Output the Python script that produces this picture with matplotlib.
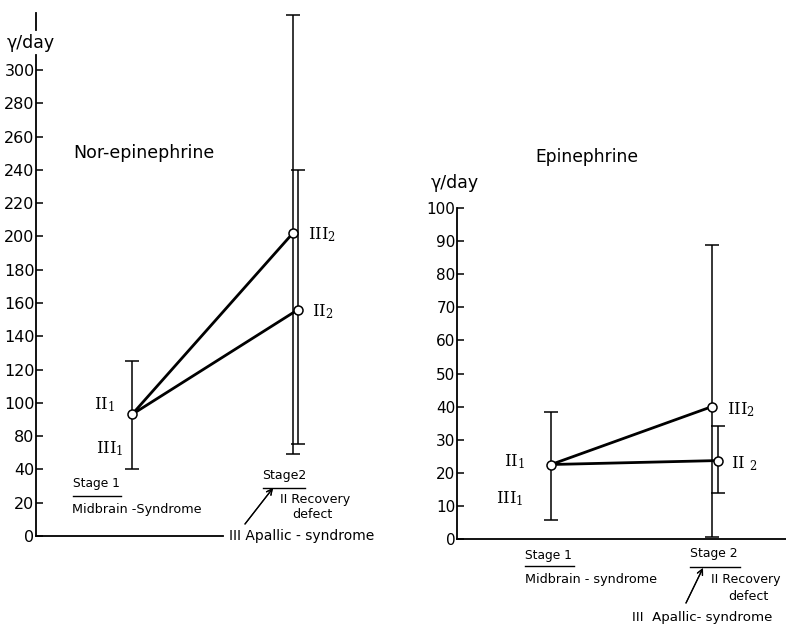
import matplotlib
matplotlib.use("Agg")
import matplotlib.pyplot as plt
from matplotlib.lines import Line2D

plt.rcParams['font.family'] = ['DejaVu Sans']

W, H = 786, 628

# Stage positions
stages = [1, 2]

# Nor-epinephrine (gamma/day); the printed axis labels 0, 20, 40 sit at 20, 40, 60
ne_stage1 = 93
ne_stage1_lo, ne_stage1_hi = 60, 125
ne_II2, ne_II2_lo, ne_II2_hi = 156, 75, 240
ne_III2, ne_III2_lo, ne_III2_hi = 202, 69, 333
ne_ticks = [20, 40, 60, 80, 100, 120, 140, 160, 180, 200, 220, 240, 260, 280, 300]
ne_ticklabels = ["0", "20", "40", "80", "100", "120", "140", "160", "180",
                 "200", "220", "240", "260", "280", "300"]

# Epinephrine (gamma/day)
e_stage1 = 22.5
e_stage1_lo, e_stage1_hi = 5.7, 38.5
e_II2, e_II2_lo, e_II2_hi = 23.7, 14, 34
e_III2, e_III2_lo, e_III2_hi = 40, 0.5, 88.8
e_ticks = [0, 10, 20, 30, 40, 50, 60, 70, 80, 90, 100]


def P(x, y):
    # pixel position -> figure fraction
    return x / W, 1 - y / H


def ftext(x, y, s, **kw):
    kw.setdefault('ha', 'left')
    kw.setdefault('va', 'center')
    fig.text(*P(x, y), s, **kw)


def fline(x0, y0, x1, y1, lw=1.0):
    a, b = P(x0, y0)
    c, d = P(x1, y1)
    fig.add_artist(Line2D([a, c], [b, d], transform=fig.transFigure,
                          color='black', lw=lw))


def ebar(ax, x, y, lo, hi):
    ax.errorbar([x], [y], yerr=[[y - lo], [hi - y]], fmt='none', ecolor='black',
                elinewidth=1.1, capsize=5, capthick=1.1, clip_on=False, zorder=2)


def style(ax):
    for s in ['top', 'right']:
        ax.spines[s].set_visible(False)
    ax.spines['left'].set_linewidth(1.3)
    ax.spines['bottom'].set_linewidth(1.3)
    ax.set_xticks([])
    ax.tick_params(axis='y', direction='in', length=5, width=1.1,
                   labelsize=11, pad=1)


fig = plt.figure(figsize=(W / 100, H / 100), dpi=100)

roman = dict(family='DejaVu Serif', fontsize=12)
mk = dict(marker='o', ms=6.5, mfc='white', mec='black', mew=1.1, ls='none',
          clip_on=False, zorder=4)

# ---------------- left: Nor-epinephrine ----------------
ax1 = fig.add_axes([36 / W, (H - 536) / H, 346 / W, 516 / H])
ax1.set_xlim(0.404, 2.553)
ax1.set_ylim(20, 330)
style(ax1)
ax1.tick_params(axis='y', labelsize=11.5)
ax1.spines['left'].set_bounds(20, 309)
ax1.spines['bottom'].set_bounds(0.404, 1.565)
ax1.set_yticks(ne_ticks)
ax1.set_yticklabels(ne_ticklabels)
ax1.plot([0.404, 0.404], [324, 334], color='black', lw=1.3, clip_on=False)

ebar(ax1, stages[0], ne_stage1, ne_stage1_lo, ne_stage1_hi)
ebar(ax1, stages[1], ne_III2, ne_III2_lo, ne_III2_hi)
ebar(ax1, stages[1] + 0.031, ne_II2, ne_II2_lo, ne_II2_hi)
ax1.plot([stages[0], stages[1]], [ne_stage1, ne_III2], color='black', lw=2, zorder=3)
ax1.plot([stages[0], stages[1] + 0.031], [ne_stage1, ne_II2], color='black', lw=2, zorder=3)
ax1.plot([stages[0], stages[1], stages[1] + 0.031], [ne_stage1, ne_III2, ne_II2], **mk)

ftext(7, 43, "γ/day", fontsize=12.5)
ftext(73, 153, "Nor-epinephrine", fontsize=12.5)
ftext(94, 405, r"$\mathregular{II_1}$", **roman)
ftext(96, 449, r"$\mathregular{III_1}$", **roman)
ftext(308, 235, r"$\mathregular{III_2}$", **roman)
ftext(312, 312, r"$\mathregular{II_2}$", **roman)

ftext(73, 483, "Stage 1", fontsize=8.8)
fline(73, 496, 121, 496)
ftext(72, 509, "Midbrain -Syndrome", fontsize=9.2)
ftext(262, 475, "Stage2", fontsize=9)
fline(263, 488, 305, 488)
ftext(280, 500, "II Recovery", fontsize=9.1)
ftext(292, 514, "defect", fontsize=9.1)
ftext(229, 536, "III Apallic - syndrome", fontsize=10)
fig.add_artist(plt.annotate("", xy=P(273, 488), xytext=P(245, 524),
                            xycoords='figure fraction', textcoords='figure fraction',
                            arrowprops=dict(arrowstyle='->', lw=0.9, color='black',
                                            shrinkA=0, shrinkB=0)))

# ---------------- right: Epinephrine ----------------
ax2 = fig.add_axes([457 / W, (H - 539) / H, 329 / W, 331 / H])
ax2.set_xlim(0.416, 2.46)
ax2.set_ylim(0, 100)
style(ax2)
ax2.set_yticks(e_ticks)

ebar(ax2, stages[0], e_stage1, e_stage1_lo, e_stage1_hi)
ebar(ax2, stages[1], e_III2, e_III2_lo, e_III2_hi)
ebar(ax2, stages[1] + 0.037, e_II2, e_II2_lo, e_II2_hi)
ax2.plot([stages[0], stages[1]], [e_stage1, e_III2], color='black', lw=2, zorder=3)
ax2.plot([stages[0], stages[1] + 0.037], [e_stage1, e_II2], color='black', lw=2, zorder=3)
ax2.plot([stages[0], stages[1], stages[1] + 0.037], [e_stage1, e_III2, e_II2], **mk)

ftext(431, 183, "γ/day", fontsize=12.5)
ftext(535, 157, "Epinephrine", fontsize=12.3)
ftext(504, 462, r"$\mathregular{II_1}$", **roman)
ftext(496, 499, r"$\mathregular{III_1}$", **roman)
ftext(727, 410, r"$\mathregular{III_2}$", **roman)
ftext(731, 464, r"$\mathregular{II\ _2}$", **roman)

ftext(525, 555, "Stage 1", fontsize=8.8)
fline(525, 566, 574, 566)
ftext(525, 580, "Midbrain - syndrome", fontsize=9.2)
ftext(690, 553, "Stage 2", fontsize=8.9)
fline(690, 567, 740, 567)
ftext(711, 580, "II Recovery", fontsize=9.0)
ftext(728, 597, "defect", fontsize=9.1)
ftext(632, 618, "III  Apallic- syndrome", fontsize=9.6)
fig.add_artist(plt.annotate("", xy=P(703, 568), xytext=P(686, 603),
                            xycoords='figure fraction', textcoords='figure fraction',
                            arrowprops=dict(arrowstyle='->', lw=0.9, color='black',
                                            shrinkA=0, shrinkB=0)))

fig.savefig("out.png", dpi=100)
